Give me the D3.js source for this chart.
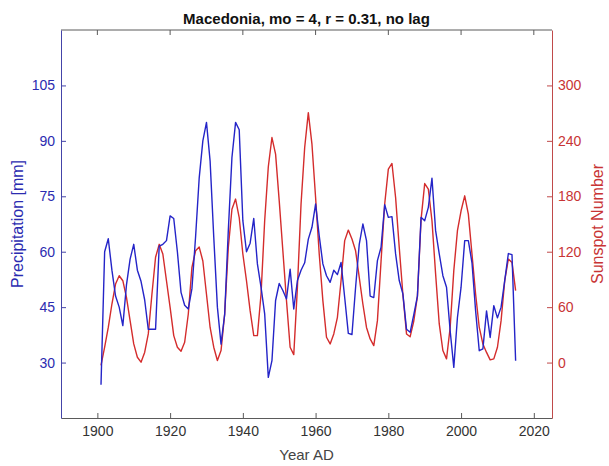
<!DOCTYPE html>
<html><head><meta charset="utf-8">
<script src="https://cdn.jsdelivr.net/npm/d3@7"></script>
<style>
body{margin:0;background:#fff}
text{font-family:"Liberation Sans",Arial,Helvetica,sans-serif}
</style>
</head><body>
<svg id="chart" width="609" height="466"></svg>
<script>
// ---- data ----
const firstYear = 1901;
const precipitation = [
 24, 60, 63.5, 55, 48, 45, 40, 51, 58, 62,
 55, 52, 47, 39, 39, 39, 61.5, 62, 63, 69.7,
 69, 60, 49, 45.5, 44.5, 50, 64, 80, 90, 95,
 84.5, 64, 45, 35, 43, 65.7, 85.5, 95, 93, 68.4,
 60, 62.3, 69, 56.7, 50.4, 43.2, 26, 30.5, 46.8, 51.4,
 49.5, 47.2, 55.3, 44.5, 52.2, 55, 57, 63.4, 66.6, 72.9,
 64.3, 56.7, 53.5, 51.7, 55, 53.8, 57.1, 47.6, 37.9, 37.6,
 50.4, 62, 67.5, 63, 48, 47.6, 57.6, 61.2, 72.7, 69.3,
 69.5, 59.4, 52.2, 48.6, 39, 38.2, 43, 48, 69.3, 68.4,
 72, 79.9, 65.7, 59.4, 53.5, 50.4, 38.6, 28.7, 42.2, 50.4,
 63, 63, 57, 44, 33.2, 33.7, 44, 36.8, 45.4, 42.1,
 45, 52.2, 59.5, 59.2, 30.5
];
const sunspots = [
 -3, 16.6, 38, 63.4, 85, 94, 88.6, 70.6, 45.4, 20.2,
 5.8, 0.4, 11, 31, 74, 114, 128, 117.5, 88.6, 59.8,
 29.2, 16.6, 12.2, 22, 52.6, 103, 121, 125, 110, 74,
 38, 16.6, 2.2, 13, 52.6, 124.7, 166, 177, 157, 117.5,
 88.6, 56.2, 29.2, 29.2, 74, 153.5, 212, 243.6, 225.6, 175,
 121, 67, 16.6, 8.6, 81.4, 171.6, 232.8, 270.6, 236.4, 178.7,
 117.5, 67, 27.4, 20.2, 31, 49, 88.6, 132, 143.4, 133.7,
 121, 92.2, 63.4, 38, 25.6, 18.4, 45.4, 110, 171.6, 209.4,
 215.5, 178.7, 124.7, 74, 31, 28, 45, 72, 155, 193.8,
 187.8, 153.5, 95.9, 41.8, 13, 4, 38, 99.5, 142.7, 164.3,
 180.5, 160.7, 117.5, 74, 38, 20.2, 11, 2.9, 4, 16.6,
 45.4, 88.6, 112, 108.4, 77.8
];
const yearTicks = [1900, 1920, 1940, 1960, 1980, 2000, 2020];
const precipTicks = [30, 45, 60, 75, 90, 105];
const sunspotTicks = [0, 60, 120, 180, 240, 300];
const titleText = "Macedonia, mo = 4, r = 0.31, no lag";
const xLabel = "Year AD";
const yLeftLabel = "Precipitation [mm]";
const yRightLabel = "Sunspot Number";

// ---- layout ----
const W = 609, H = 466;
const m = {left: 61, right: 57, top: 30, bottom: 48};
const x0 = m.left, x1 = W - m.right, yTop = m.top, yBot = H - m.bottom;

const blue = "#2424c8", red = "#d42c2c";
const blueText = "#2b2bb0", redText = "#c83434", gray = "#5a5a5a";

const svg = d3.select("#chart");

const x = d3.scaleLinear().domain([1890, 2025]).range([x0, x1]);
const yL = d3.scaleLinear().domain([15, 120]).range([yBot, yTop]);
const yR = d3.scaleLinear().domain([-60, 360]).range([yBot, yTop]);

const years = precipitation.map((_, i) => firstYear + i);

// box top line
svg.append("line").attr("x1", x0).attr("x2", x1).attr("y1", yTop).attr("y2", yTop)
  .attr("stroke", gray).attr("stroke-width", 1);
svg.append("g").selectAll("line").data(yearTicks).join("line")
  .attr("x1", d => x(d)).attr("x2", d => x(d)).attr("y1", yTop).attr("y2", yTop + 5)
  .attr("stroke", gray);

// bottom axis
const gx = svg.append("g").attr("transform", `translate(0,${yBot})`)
  .call(d3.axisBottom(x).tickValues(yearTicks).tickFormat(d3.format("d"))
    .tickSizeInner(-5).tickSizeOuter(0).tickPadding(8));
gx.select(".domain").attr("stroke", gray);
gx.selectAll(".tick line").attr("stroke", gray);
gx.selectAll(".tick text").attr("fill", "#333").style("font-size", "14px");

// left axis
const gl = svg.append("g").attr("transform", `translate(${x0},0)`)
  .call(d3.axisLeft(yL).tickValues(precipTicks).tickSizeInner(-5).tickSizeOuter(0).tickPadding(6));
gl.select(".domain").attr("stroke", "#4444a8");
gl.selectAll(".tick line").attr("stroke", "#4444a8");
gl.selectAll(".tick text").attr("fill", blueText).style("font-size", "14px");

// right axis
const gr = svg.append("g").attr("transform", `translate(${x1},0)`)
  .call(d3.axisRight(yR).tickValues(sunspotTicks).tickSizeInner(-5).tickSizeOuter(0).tickPadding(6));
gr.select(".domain").attr("stroke", "#c04a4a");
gr.selectAll(".tick line").attr("stroke", "#c04a4a");
gr.selectAll(".tick text").attr("fill", redText).style("font-size", "14px");

// lines
const lineL = d3.line().x((d, i) => x(years[i])).y(d => yL(d));
const lineR = d3.line().x((d, i) => x(years[i])).y(d => yR(d));
svg.append("path").datum(sunspots).attr("d", lineR)
  .attr("fill", "none").attr("stroke", red).attr("stroke-width", 1.4).attr("stroke-linejoin", "round");
svg.append("path").datum(precipitation).attr("d", lineL)
  .attr("fill", "none").attr("stroke", blue).attr("stroke-width", 1.4).attr("stroke-linejoin", "round");

// title
svg.append("text").attr("x", (x0 + x1) / 2).attr("y", 24).attr("text-anchor", "middle")
  .style("font-size", "15px").style("font-weight", "bold").attr("fill", "#111").text(titleText);

// x label
svg.append("text").attr("x", (x0 + x1) / 2).attr("y", 460).attr("text-anchor", "middle")
  .style("font-size", "15px").attr("fill", "#444").text(xLabel);

// y labels
const yMid = (yTop + yBot) / 2;
svg.append("text").attr("transform", `translate(23,${yMid}) rotate(-90)`).attr("text-anchor", "middle")
  .style("font-size", "16px").attr("fill", blueText).text(yLeftLabel);
svg.append("text").attr("transform", `translate(603,${yMid}) rotate(-90)`).attr("text-anchor", "middle")
  .style("font-size", "16px").attr("fill", redText).text(yRightLabel);
</script>
</body></html>
